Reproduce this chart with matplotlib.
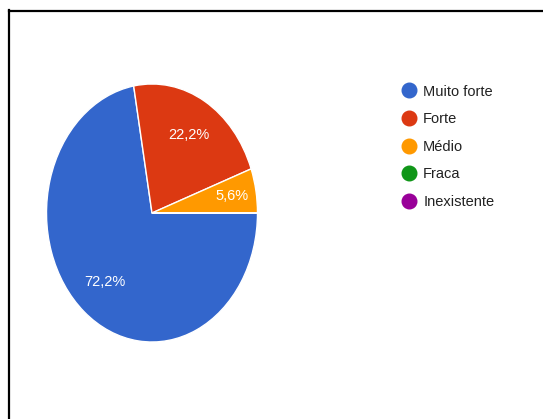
import matplotlib
matplotlib.use("Agg")
import matplotlib.pyplot as plt
from matplotlib.lines import Line2D

categories = ["Muito forte", "Forte", "Médio", "Fraca", "Inexistente"]
values = [13, 4, 1, 0, 0]
colors = ["#3366CC", "#DC3912", "#FF9900", "#109618", "#990099"]

plt.rcParams['font.family'] = ['Liberation Sans', 'DejaVu Sans']

W, H = 543, 419
fig = plt.figure(figsize=(W / 100, H / 100), dpi=100)

# pie axes (stretched ellipse like the reference)
cx, cy, rx, ry = 152, 213, 105.5, 129
ax = fig.add_axes([(cx - rx) / W, 1 - (cy + ry) / H, 2 * rx / W, 2 * ry / H])

def fmt(p):
    return f"{p:.1f}".replace(".", ",") + "%" if p > 0 else ""

wedges, texts, autotexts = ax.pie(
    values, colors=colors, startangle=0, counterclock=False,
    autopct=fmt, pctdistance=0.7,
    wedgeprops=dict(edgecolor="white", linewidth=1),
    textprops=dict(color="white", fontsize=10.5),
)
# push the small slice label a little further out
for v, t in zip(values, autotexts):
    if 0 < v / sum(values) < 0.1:
        x, y = t.get_position()
        t.set_position((x * 1.1, y * 1.1))
ax.set_aspect('auto')
ax.set_xlim(-1, 1)
ax.set_ylim(-1, 1)
ax.axis('off')

handles = [Line2D([], [], marker='o', linestyle='none', markersize=10.5,
                  markerfacecolor=c, markeredgecolor=c) for c in colors]
leg = fig.legend(handles, categories, loc='upper left',
                 bbox_to_anchor=(402 / W, 1 - 84.5 / H), frameon=False,
                 fontsize=10.5, labelspacing=0.93, handlelength=1.0,
                 handletextpad=0.45, borderaxespad=0, borderpad=0)
for t in leg.get_texts():
    t.set_color("#222222")

# partial black frame (top and left)
fig.add_artist(Line2D([8.5 / W, 1], [1 - 11 / H, 1 - 11 / H], color='black',
                      linewidth=1.6, transform=fig.transFigure))
fig.add_artist(Line2D([9 / W, 9 / W], [0, 1 - 10.2 / H], color='black',
                      linewidth=1.6, transform=fig.transFigure))

fig.savefig("out.png", dpi=100)
